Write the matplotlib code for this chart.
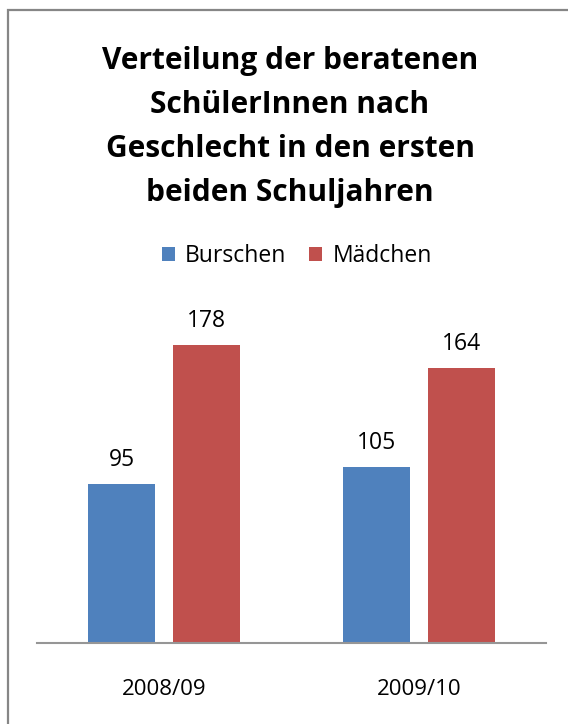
import matplotlib
matplotlib.use("Agg")
import matplotlib.pyplot as plt
from matplotlib.patches import Rectangle
import numpy as np

plt.rcParams['font.family'] = ['Open Sans', 'DejaVu Sans']

title = "Verteilung der beratenen\nSchülerInnen nach\nGeschlecht in den ersten\nbeiden Schuljahren"
categories = ["2008/09", "2009/10"]
series_names = ["Burschen", "Mädchen"]
burschen = [95, 105]
maedchen = [178, 164]
colors = ["#4F81BD", "#C0504D"]

W, H = 568, 724
fig = plt.figure(figsize=(W / 100, H / 100), dpi=100)

def px(x, y):
    return x / W, 1 - y / H

# outer border (extends beyond image at right/bottom)
fig.patches.append(Rectangle(px(8, 760), 600 / W, 750 / H, transform=fig.transFigure,
                             fill=False, edgecolor="#868686", linewidth=1.6))

ax = fig.add_axes([37 / W, 81 / H, 509 / W, 335 / H])
x = np.arange(len(categories))
bw = 0.264
off = 0.167
b1 = ax.bar(x - off, burschen, bw, color=colors[0], label=series_names[0])
b2 = ax.bar(x + off, maedchen, bw, color=colors[1], label=series_names[1])
for bars in (b1, b2):
    for r in bars:
        ax.annotate(f"{int(r.get_height())}", (r.get_x() + r.get_width() / 2, r.get_height()),
                    xytext=(0, 8.5), textcoords="offset points", ha="center", va="bottom",
                    fontsize=16.5, color="#000000")
ax.set_xlim(-0.5, 1.5)
ax.set_ylim(0, 200)
ax.set_yticks([])
ax.set_xticks(x)
ax.set_xticklabels(categories, fontsize=16)
ax.tick_params(axis="x", length=0, pad=26)
for s in ["top", "right", "left"]:
    ax.spines[s].set_visible(False)
ax.spines["bottom"].set_color("#969696")
ax.spines["bottom"].set_linewidth(1.5)

fig.text(*px(290, 127), title, ha="center", va="center", fontsize=21.5,
         fontweight="bold", linespacing=1.6)

leg = fig.legend(handles=[b1, b2], labels=series_names, loc="center",
                 bbox_to_anchor=px(297, 256), ncol=2, frameon=False, fontsize=16.5,
                 handlelength=0.55, handleheight=0.55, handletextpad=0.45, columnspacing=1.0)

fig.savefig("out.png", dpi=100)
